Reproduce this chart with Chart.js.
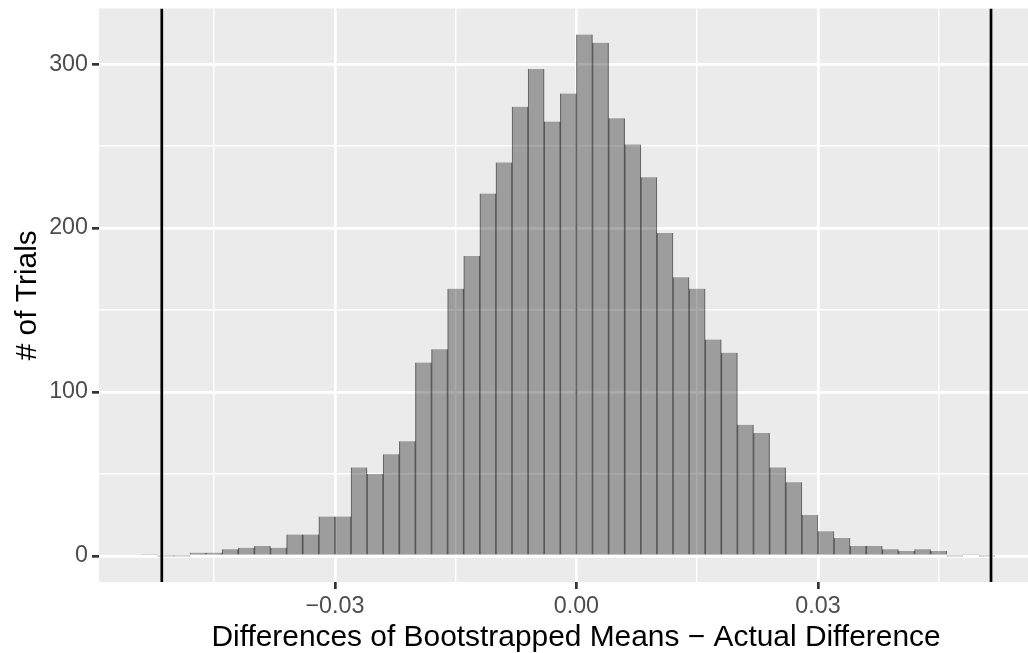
<!DOCTYPE html>
<html>
<head>
<meta charset="utf-8">
<script src="https://cdn.jsdelivr.net/npm/chart.js@4/dist/chart.umd.min.js"></script>
<style>
  html, body { margin: 0; padding: 0; background: #ffffff; overflow: hidden; }
  #wrap { position: relative; width: 1053px; height: 653px; }
</style>
</head>
<body>
<div id="wrap"><canvas id="chart"></canvas></div>
<script>
// Histogram of bootstrapped differences (bin width 0.002)
const binStart = -0.054;
const binWidth = 0.002;
const binCounts = [
  1, 0, 0, 2, 2, 4, 5, 6, 5, 13,
  13, 24, 24, 54, 50, 62, 70, 118, 126, 163,
  183, 221, 240, 274, 297, 265, 282, 318, 313, 267,
  251, 231, 197, 170, 163, 132, 124, 80, 75, 54,
  45, 25, 15, 11, 6, 6, 4, 3, 4, 3,
  0, 1, 0
];

// Observed difference, shown as reference lines on both sides
const refLines = [-0.0515, 0.0515];

// Axis limits and breaks
const xLimits = [-0.0593, 0.0592];
const yLimits = [-15.9, 333.9];
const xMajor = [-0.03, 0, 0.03];
const xMajorLabels = ['\u22120.03', '0.00', '0.03'];
const xMinor = [-0.045, -0.015, 0.015, 0.045];
const yMajor = [0, 100, 200, 300];
const yMajorLabels = ['0', '100', '200', '300'];
const yMinor = [50, 150, 250];

const xTitle = 'Differences of Bootstrapped Means \u2212 Actual Difference';
const yTitle = '# of Trials';

const binPoints = binCounts.map((c, i) => ({ x: binStart + binWidth * (i + 0.5), y: c }));

const panelBackground = {
  id: 'panelBackground',
  beforeDraw(chart) {
    const { ctx, chartArea: a } = chart;
    ctx.save();
    ctx.fillStyle = '#EBEBEB';
    ctx.fillRect(a.left, a.top, a.right - a.left, a.bottom - a.top);
    ctx.restore();
  }
};

function gridFor(major) {
  return {
    offset: false,
    color: '#FFFFFF',
    lineWidth: (c) => (c.tick && major.includes(c.tick.value)) ? 2.7 : 1.4,
    tickColor: (c) => (c.tick && major.includes(c.tick.value)) ? '#333333' : 'rgba(0,0,0,0)',
    tickWidth: 2.7,
    tickLength: 7,
    drawTicks: true,
    drawOnChartArea: true
  };
}

const fontFamily = '"Liberation Sans", Arial, Helvetica, sans-serif';

const refDatasets = refLines.map((v) => ({
  type: 'line',
  data: [{ x: v, y: yLimits[0] }, { x: v, y: yLimits[1] }],
  borderColor: '#000000',
  borderWidth: 2.7,
  pointRadius: 0,
  fill: false,
  order: 0
}));

new Chart(document.getElementById('chart'), {
  type: 'bar',
  data: {
    datasets: [
      {
        data: binPoints,
        backgroundColor: 'rgba(0,0,0,0.33)',
        borderColor: 'rgba(0,0,0,0.45)',
        borderWidth: { left: 0.5, right: 0.5, top: 0, bottom: 0 },
        borderSkipped: false,
        barPercentage: 1,
        categoryPercentage: 1,
        minBarLength: 1,
        order: 1
      },
      ...refDatasets
    ]
  },
  options: {
    responsive: true,
    maintainAspectRatio: false,
    devicePixelRatio: 1,
    animation: false,
    events: [],
    layout: { padding: { top: 8.5, right: 0, bottom: 0, left: 0 } },
    plugins: { legend: { display: false }, tooltip: { enabled: false } },
    scales: {
      x: {
        type: 'linear',
        min: xLimits[0],
        max: xLimits[1],
        offset: false,
        border: { display: false },
        grid: gridFor(xMajor),
        afterBuildTicks: (s) => { s.ticks = [...xMinor, ...xMajor].sort((a, b) => a - b).map((v) => ({ value: v })); },
        afterFit: (s) => { s.height = 71; s.paddingLeft = 0; s.paddingRight = 0; },
        ticks: {
          autoSkip: false,
          maxRotation: 0,
          padding: 3.8,
          color: '#4D4D4D',
          font: { family: fontFamily, size: 23.3 },
          callback: (v) => { const i = xMajor.indexOf(v); return i >= 0 ? xMajorLabels[i] : ''; }
        },
        title: {
          display: true,
          text: xTitle,
          color: '#000000',
          font: { family: fontFamily, size: 29.9, lineHeight: 1 },
          padding: { top: 0, bottom: 0.5 }
        }
      },
      y: {
        type: 'linear',
        min: yLimits[0],
        max: yLimits[1],
        border: { display: false },
        grid: gridFor(yMajor),
        afterBuildTicks: (s) => { s.ticks = [...yMinor, ...yMajor].sort((a, b) => a - b).map((v) => ({ value: v })); },
        afterFit: (s) => { s.width = 99; s.paddingTop = 0; s.paddingBottom = 0; },
        ticks: {
          autoSkip: false,
          padding: 4,
          color: '#4D4D4D',
          font: { family: fontFamily, size: 23.3 },
          callback: (v) => { const i = yMajor.indexOf(v); return i >= 0 ? yMajorLabels[i] : ''; }
        },
        title: {
          display: true,
          text: yTitle,
          color: '#000000',
          font: { family: fontFamily, size: 29.9, lineHeight: 1 },
          padding: { top: 12.4, bottom: 0 }
        }
      }
    }
  },
  plugins: [panelBackground]
});
</script>
</body>
</html>
